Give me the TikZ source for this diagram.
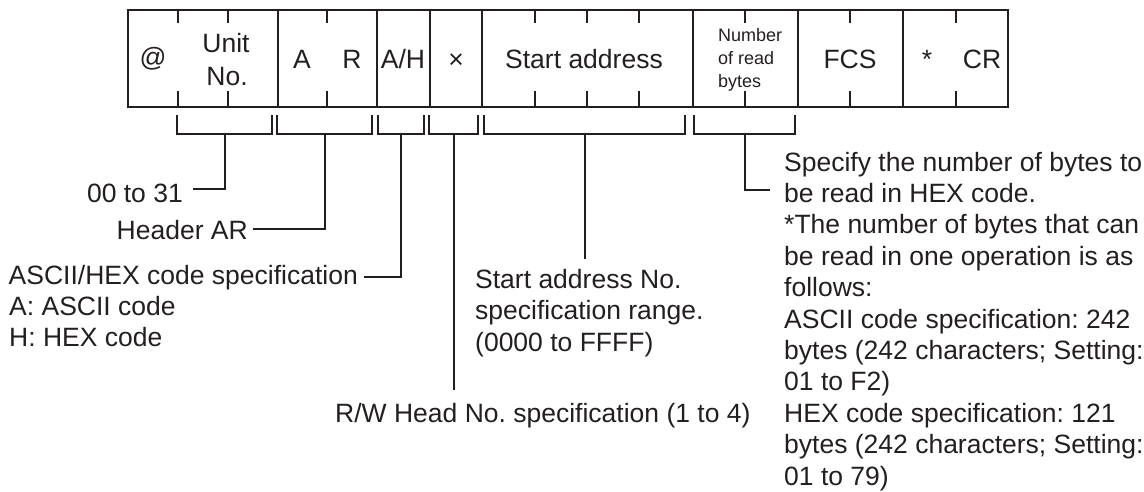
\documentclass[tikz,border=0pt]{standalone}
\usepackage{fontspec}
\setmainfont{Liberation Sans}
\frenchspacing
\definecolor{ink}{HTML}{231F20}
\newcommand{\bigf}{\fontsize{26.5}{31.6}\selectfont}
\newcommand{\rightf}{\fontsize{26.5}{31.4}\selectfont}
\newcommand{\smallf}{\fontsize{18}{23}\selectfont}
\begin{document}
\begin{tikzpicture}[x=1pt,y=-1pt,
  frame/.style={draw=ink,line width=2.5pt},
  tick/.style={draw=ink,line width=2.3pt},
  brk/.style={draw=ink,line width=2pt},
  txt/.style={font=\bigf,text=ink,inner sep=0pt},
  stxt/.style={font=\smallf,text=ink,inner sep=0pt}]
\useasboundingbox (0,0) rectangle (1144,491);
% frame
\draw[frame] (128,10) rectangle (1008,107);
\foreach \x in {278,377,430,482,693,798,903}
  \draw[frame] (\x,10) -- (\x,107);
\foreach \x in {178,228,327,535,587,639,745,850,956}{
  \draw[tick] (\x,10) -- (\x,23);
  \draw[tick] (\x,91) -- (\x,107);}
% cell texts
\node[txt,anchor=base] (cat) at (153,66) {@};
\node[txt,anchor=base] (cunit) at (226,52) {Unit};
\node[txt,anchor=base] (cno) at (227,85) {No.};
\node[txt,anchor=base] (ca) at (302,68) {A};
\node[txt,anchor=base] (cr) at (352,68) {R};
\node[txt,anchor=base] (cah) at (403,68) {A/H};
\node[txt,anchor=base] (cx) at (456,68) {×};
\node[txt,anchor=base] (csa) at (584,68) {Start address};
\node[stxt,anchor=base west,align=left] (cnum) at (718,87.7) {Number\\of read\\bytes};
\node[txt,anchor=base] (cfcs) at (850,68) {FCS};
\node[txt,anchor=base] (cast) at (927,68) {*};
\node[txt,anchor=base] (ccr) at (982,68) {CR};
% brackets
\newcommand{\bracketat}[3]{%
  \draw[brk] (#1,115) -- (#1,134) -- (#2,134) -- (#2,115);
  \coordinate (#3) at ({(#1+#2)/2},134);}
\bracketat{177}{272}{b1}
\bracketat{277}{372}{b2}
\bracketat{378}{424}{b3}
\bracketat{429}{478}{b4}
\bracketat{484}{685}{b5}
\bracketat{694}{795}{b6}
% labels
\node[txt,anchor=base east] (t1) at (183,202) {00 to 31};
\node[txt,anchor=base east] (t2) at (248,239) {Header AR};
\node[txt,anchor=base east] (t3) at (358,284) {ASCII/HEX code specification};
\node[txt,anchor=base west,align=left] (t3b) at (9,346.6) {A: ASCII code\\H: HEX code};
\node[txt,anchor=base west] (t4) at (335,422) {R/W Head No. specification (1 to 4)};
\node[txt,anchor=base west,align=left] (t5) at (475,351.2) {Start address No.\\specification range.\\(0000 to FFFF)};
\node[txt,font=\rightf,anchor=base west,align=left] (t6) at (784,485) {Specify the number of bytes to\\be read in HEX code.\\*The number of bytes that can\\be read in one operation is as\\follows:\\ASCII code specification: 242\\bytes (242 characters; Setting:\\01 to F2)\\HEX code specification: 121\\bytes (242 characters; Setting:\\01 to 79)};
% leaders
\coordinate (e1) at (193,189);
\coordinate (e2) at (253,229);
\coordinate (e3) at (364,277);
\coordinate (e4) at (453.5,390);
\coordinate (e5) at (584.5,259);
\coordinate (e6) at (770,190);
\draw[brk] (b1) |- (e1);
\draw[brk] (b2) |- (e2);
\draw[brk] (b3) |- (e3);
\draw[brk] (b4) -- (e4);
\draw[brk] (b5) -- (e5);
\draw[brk] (b6) |- (e6);
\end{tikzpicture}
\end{document}
